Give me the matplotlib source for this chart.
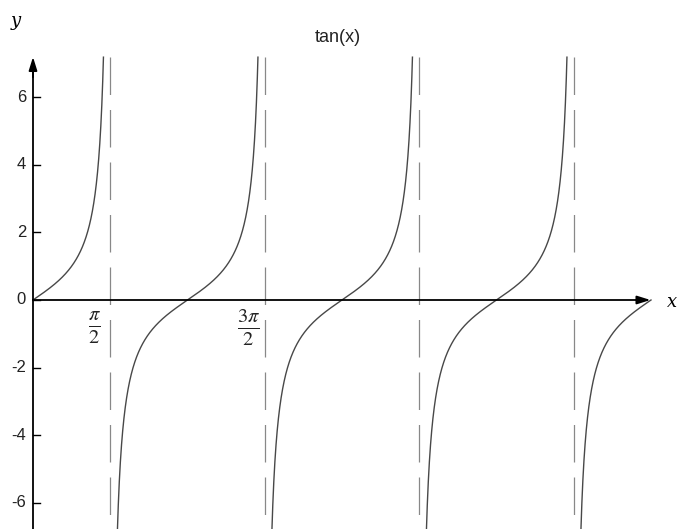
import numpy as np
import matplotlib.pyplot as plt

plt.rcParams['mathtext.fontset'] = 'stix'

# domain of the plot and where the curve is cut off at the top
x_start = 0.0
x_end = 4 * np.pi
y_top = 7.19
title = "tan(x)"
y_ticks = [-6, -4, -2, 0, 2, 4, 6]
# asymptotes of tan on [0, 4pi]
asymptotes = [np.pi / 2, 3 * np.pi / 2, 5 * np.pi / 2, 7 * np.pi / 2]
pi_labels = [(np.pi / 2, r"$\frac{\pi}{2}$"), (3 * np.pi / 2, r"$\frac{3\pi}{2}$")]

# pixel layout: origin at (33, 300), pi = 154.5 px, 2 units = 67.6 px
W, H = 677, 529
x0_px, y0_px = 33, 300
px_per_x = 154.5 / np.pi
px_per_y = 33.8

fig = plt.figure(figsize=(W / 100, H / 100), dpi=100)
ax = fig.add_axes([0, 0, 1, 1])
ax.set_xlim(-x0_px / px_per_x, (W - x0_px) / px_per_x)
ax.set_ylim(-(H - y0_px) / px_per_y, y0_px / px_per_y)
ax.axis('off')

curve_col = '#484848'
dash_col = '#888888'

# one branch of tan between consecutive asymptotes
edges = [x_start] + asymptotes + [x_end]
for a, b in zip(edges[:-1], edges[1:]):
    xs = np.linspace(a, b, 2000)
    xs = xs[(xs > a) | (a == x_start)]
    xs = xs[(xs < b) | (b == x_end)]
    ys = np.tan(xs)
    keep = (ys <= y_top) & (ys >= -12)
    ax.plot(xs[keep], ys[keep], color=curve_col, lw=1.0)

for xa in asymptotes:
    ax.plot([xa, xa], [y_top, -12], color=dash_col, lw=0.9,
            linestyle=(0, (30, 12)))

# axes with arrows
ax.plot([x_start, x_end - 0.08], [0, 0], color='black', lw=1.3)
ax.annotate('', xy=(x_end - 0.01, 0), xytext=(x_end - 0.3, 0),
            arrowprops=dict(arrowstyle='-|>,head_length=0.8,head_width=0.25',
                            color='black', lw=1.3, shrinkA=0, shrinkB=0))
ax.plot([0, 0], [-10, y_top - 0.2], color='black', lw=1.3)
ax.annotate('', xy=(0, y_top), xytext=(0, y_top - 0.6),
            arrowprops=dict(arrowstyle='-|>,head_length=0.8,head_width=0.25',
                            color='black', lw=1.3, shrinkA=0, shrinkB=0))

# y ticks and labels
tick_len = 7 / px_per_x
for t in y_ticks:
    ax.plot([0, tick_len], [t, t], color='black', lw=1.0)
    ax.text(-7 / px_per_x, t, str(t), ha='right', va='center',
            fontsize=12, family='Liberation Sans', color='#222222')

# pi fraction labels left of the asymptotes
for xa, lab in pi_labels:
    ax.text(xa - 16 / px_per_x, -28 / px_per_y, lab, ha='center', va='center',
            fontsize=21, color='#222222')

ax.text(-17 / px_per_x, 279 / px_per_y, 'y', fontsize=13, style='italic',
        family='DejaVu Serif', ha='center', va='center')
ax.text(639 / px_per_x, -2 / px_per_y, 'x', fontsize=13, style='italic',
        family='DejaVu Serif', ha='center', va='center')

ax.text(305 / px_per_x, 262 / px_per_y, title, fontsize=13,
        family='Liberation Sans', ha='center', va='center', color='#222222')

fig.savefig('out.png', dpi=100)
